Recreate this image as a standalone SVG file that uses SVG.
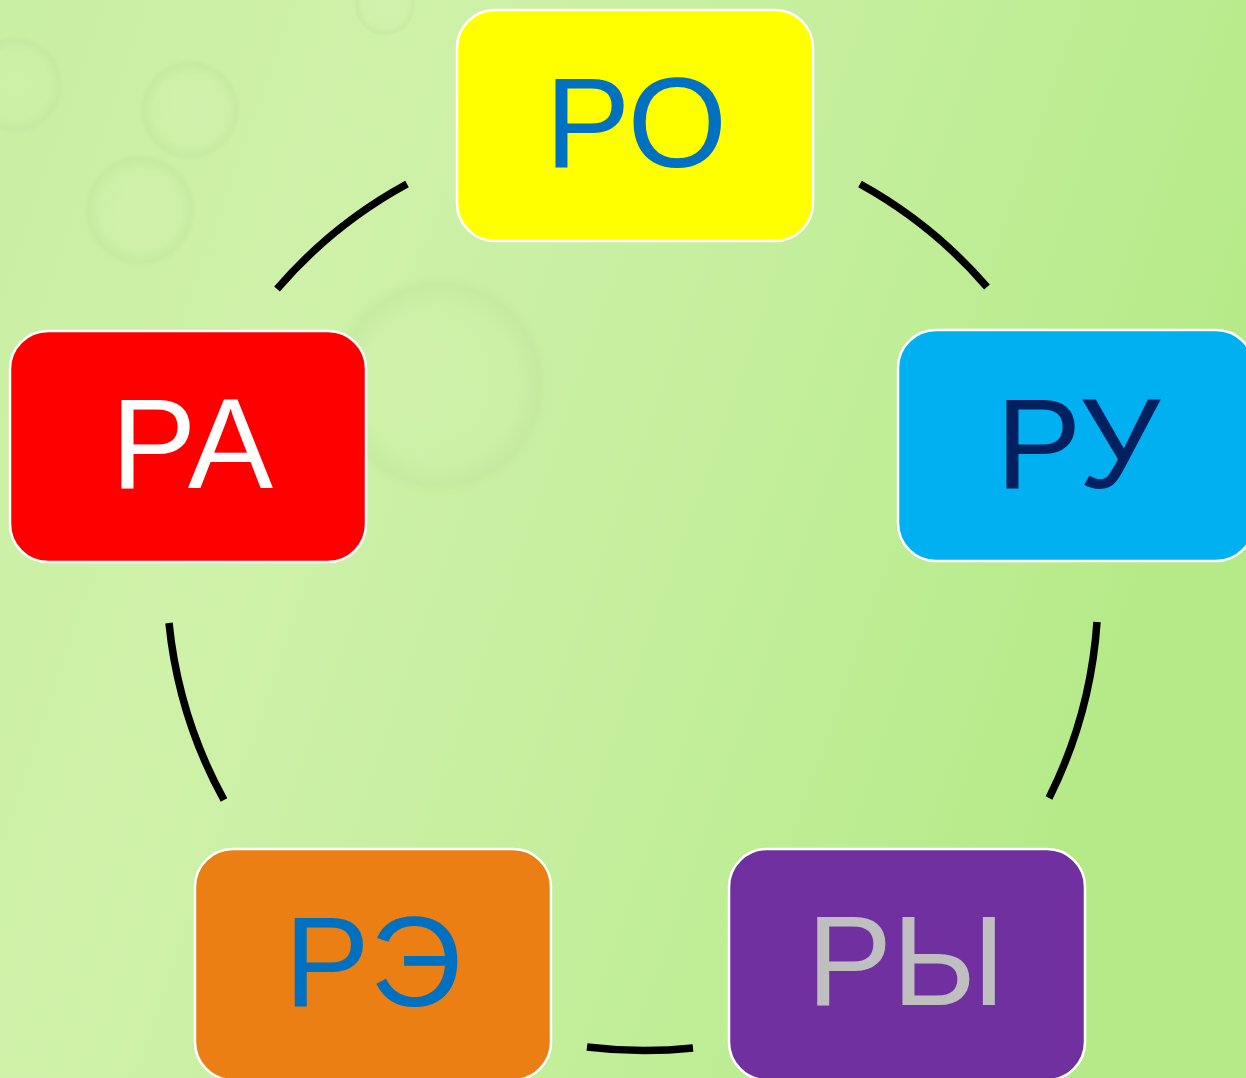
<svg xmlns="http://www.w3.org/2000/svg" width="1246" height="1078" viewBox="0 0 1246 1078">
  <defs>
    <linearGradient id="bg" x1="0" y1="0" x2="1" y2="0.3">
      <stop offset="0" stop-color="#c9efa2"/>
      <stop offset="0.3" stop-color="#cff1a9"/>
      <stop offset="0.7" stop-color="#c2ee9a"/>
      <stop offset="1" stop-color="#b6ea88"/>
    </linearGradient>
    <radialGradient id="bub" cx="0.5" cy="0.5" r="0.5">
      <stop offset="0" stop-color="#d6f3b4" stop-opacity="0.35"/>
      <stop offset="0.7" stop-color="#d2f1ae" stop-opacity="0.3"/>
      <stop offset="0.9" stop-color="#b8da94" stop-opacity="0.25"/>
      <stop offset="1" stop-color="#c6ea9e" stop-opacity="0"/>
    </radialGradient>
    <style>
      .node { stroke: #ffffff; stroke-width: 2.5; }
      .lbl { font-family: "Liberation Sans", Arial, sans-serif; font-size: 128px; text-anchor: middle; }
      .arc { fill: none; stroke: #000000; stroke-width: 7.5; stroke-linecap: butt; }
    </style>
  </defs>
  <rect width="1246" height="1078" fill="url(#bg)"/>
  <g id="bubbles">
    <circle cx="15" cy="85" r="50" fill="url(#bub)"/>
    <circle cx="190" cy="110" r="52" fill="url(#bub)"/>
    <circle cx="140" cy="210" r="58" fill="url(#bub)"/>
    <circle cx="440" cy="385" r="112" fill="url(#bub)"/>
    <circle cx="385" cy="5" r="32" fill="url(#bub)"/>
  </g>
  <g id="connectors">
    <path class="arc" d="M277,289 A464,464 0 0 1 407,184"/>
    <path class="arc" d="M860,184 A464,464 0 0 1 987,287"/>
    <path class="arc" d="M1097,622 A464,464 0 0 1 1049,798"/>
    <path class="arc" d="M693,1048 A464,464 0 0 1 587,1047"/>
    <path class="arc" d="M224,800 A464,464 0 0 1 169,623"/>
  </g>
  <g id="node-ro">
    <rect class="node" x="457" y="10" width="356" height="231" rx="38" fill="#ffff00"/>
    <text class="lbl" x="636" y="167" fill="#0070c0">РО</text>
  </g>
  <g id="node-ru">
    <rect class="node" x="898" y="330" width="356" height="231" rx="38" fill="#00b0f0"/>
    <text class="lbl" x="1078" y="488" fill="#002060">РУ</text>
  </g>
  <g id="node-ra">
    <rect class="node" x="10" y="331" width="356" height="231" rx="38" fill="#ff0000"/>
    <text class="lbl" x="192" y="488" fill="#ffffff">РА</text>
  </g>
  <g id="node-re">
    <rect class="node" x="195" y="849" width="356" height="231" rx="38" fill="#eb7f13"/>
    <text class="lbl" x="373" y="1006" fill="#0070c0">РЭ</text>
  </g>
  <g id="node-ry">
    <rect class="node" x="729" y="849" width="356" height="231" rx="38" fill="#7030a0"/>
    <text class="lbl" x="906" y="1005" fill="#bfbfbf">РЫ</text>
  </g>
</svg>
